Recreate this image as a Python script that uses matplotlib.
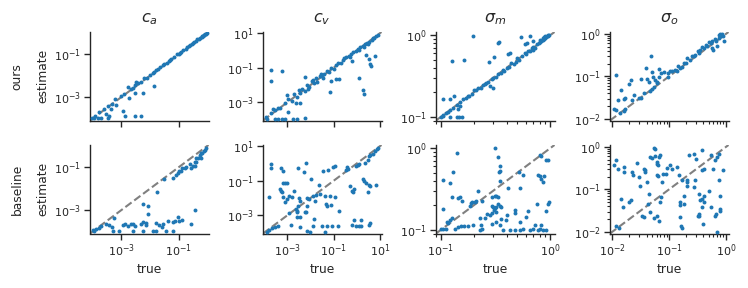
import numpy as np
import matplotlib
matplotlib.use("Agg")
import matplotlib.pyplot as plt
from matplotlib.ticker import NullFormatter, NullLocator, LogLocator, FixedLocator

# ---------------- data (c_a, c_v, sigma_o given as log10 values; sigma_m linear) ----------------
ca_ours_true_log = [-3.9, -3.75, -3.6, -3.45, -3.3, -3.2, -3.0, -2.9, -2.77, -2.65,
                    -2.48, -2.6, -2.5, -2.4, -2.3, -2.21, -2.1, -2.0, -1.9, -1.8,
                    -1.7, -1.65, -1.55, -1.5, -1.4, -1.35, -1.3, -1.25, -1.15, -1.05,
                    -1.0, -0.95, -0.9, -0.85, -0.75, -0.7, -0.65, -0.6, -0.55, -0.5,
                    -0.45, -0.4, -0.35, -0.3, -0.25, -0.2, -0.18, -0.15, -0.12, -0.1,
                    -0.08, -0.05, -0.02, -1.85,
                    -1.84, -2.24, -2.53, -2.71, -2.94, -2.88, -2.53, -2.3, -3.41, -3.17,
                    -3.35, -3.52, -3.93, -3.81, -4.0, -3.7, -3.45]
ca_ours_est_log = [-3.85, -3.7, -3.55, -3.4, -3.3, -3.1, -2.95, -2.85, -2.54, -2.62,
                   -2.31, -2.55, -2.45, -2.35, -2.3, -2.1, -2.08, -1.95, -1.85, -1.74,
                   -1.69, -1.6, -1.5, -1.47, -1.38, -1.3, -1.27, -1.2, -1.12, -1.0,
                   -0.98, -0.92, -0.88, -0.8, -0.73, -0.66, -0.6, -0.58, -0.5, -0.47,
                   -0.42, -0.38, -0.3, -0.28, -0.22, -0.18, -0.15, -0.13, -0.08, -0.1,
                   -0.06, -0.03, 0.0, -1.8,
                   -2.49, -2.82, -2.82, -3.03, -3.62, -3.88, -3.89, -3.89, -3.88, -3.38,
                   -3.54, -3.77, -3.97, -3.97, -3.97, -3.97, -3.97]

ca_base_true_log = [-1.49, -1.2, -1.1, -1.02, -0.97, -0.87, -0.79, -0.73, -0.56, -0.5,
                    -0.44, -0.38, -0.33, -0.27, -0.21, -0.17, -0.13, -0.09, -0.03, -0.38,
                    -0.21, -0.44, -0.6, -0.9,
                    -1.74, -2.22, -2.07, -2.05, -0.44, -0.56, -1.02, -0.97, -0.87, -1.37,
                    -1.2, -1.14, -1.78, -1.69, -1.55, -1.57, -2.24, -2.13, -2.3, -2.15,
                    -2.65, -2.59, -2.53, -2.88, -2.94, -2.77, -3.26, -3.52, -3.41, -3.31,
                    -3.7, -3.76, -3.87, -3.99, -3.93, -3.29, -3.06, -2.59, -2.24, -1.9,
                    -1.78, -1.43, -1.2]
ca_base_est_log = [-1.55, -1.48, -1.35, -1.28, -1.17, -1.05, -1.02, -0.97, -1.05, -0.92,
                   -0.77, -0.74, -0.55, -0.43, -0.35, -0.31, -0.25, -0.2, -0.12, -0.58,
                   -0.55, -0.95, -0.85, -1.15,
                   -2.15, -2.69, -2.78, -3.17, -2.98, -3.63, -3.31, -3.48, -3.43, -3.48,
                   -3.55, -3.48, -3.58, -3.69, -3.63, -3.78, -3.54, -3.58, -3.66, -3.69,
                   -3.63, -3.66, -3.74, -3.66, -3.69, -3.74, -3.38, -3.66, -3.69, -3.77,
                   -3.74, -3.82, -3.89, -3.94, -3.97, -3.98, -3.98, -3.98, -3.98, -3.98,
                   -3.98, -3.98, -3.98]

cv_ours_true_log = [-3.9, -3.7, -3.55, -3.4, -3.3, -3.1, -2.95, -2.8, -2.7, -2.6,
                    -2.5, -2.45, -2.35, -2.25, -2.24, -2.15, -2.05, -1.95, -1.85, -1.75,
                    -1.7, -1.6, -1.5, -1.4, -1.3, -1.2, -1.1, -1.0, -0.9, -0.8,
                    -0.7, -0.6, -0.45, -0.35, -0.25, -0.15, -0.05, 0.05, 0.15, 0.25,
                    0.35, 0.45, 0.55, 0.65, 0.75, 0.85, 0.9,
                    -1.55, -1.45, -0.55, -0.3, 0.1, 0.3, 0.5, 0.7, -1.9, -2.1,
                    -3.71, -3.71, -3.24, -3.6, -3.0, -2.96, -3.89, -3.53, -3.39, -3.24,
                    -3.1, -2.74, -2.57, -2.24, -2.63, -2.43, -1.17, -1.1, -0.91, -0.77,
                    0.11, 0.26, 0.33, -0.2, 0.4, 0.51, 0.57, 0.61, 0.79]
cv_ours_est_log = [-3.85, -3.6, -3.45, -3.3, -3.35, -3.05, -2.8, -2.9, -2.5, -2.7,
                   -2.3, -2.45, -2.2, -2.35, -1.55, -2.0, -2.1, -1.75, -1.9, -1.6,
                   -1.8, -1.5, -1.45, -1.35, -1.2, -1.25, -1.0, -1.05, -0.85, -0.7,
                   -0.75, -0.55, -0.4, -0.3, -0.2, -0.1, -0.05, 0.1, 0.2, 0.25,
                   0.35, 0.45, 0.5, 0.6, 0.7, 0.85, 0.9,
                   -1.35, -1.6, -0.45, -0.35, 0.05, 0.2, 0.4, 0.75, -1.7, -2.2,
                   -1.14, -1.78, -1.18, -3.39, -2.57, -3.58, -3.97, -3.98, -3.98, -3.98,
                   -3.98, -3.98, -3.98, -3.9, -3.06, -3.06, -2.38, -1.74, -1.65, -1.65,
                   -1.61, -2.28, -2.52, -0.6, -0.26, -0.51, -0.78, -0.89, -0.29]

cv_base_true_log = [-3.71, -3.71, -3.27, -3.2, -2.21, -2.53, -2.27, -1.99, -1.46, -1.24,
                    -1.03, -0.96, -0.41, -0.39, -0.46, -0.03, 0.04, 0.11, 0.37, 0.47,
                    0.51, 0.57, 0.69, 0.8, 0.86, 0.93, -3.81, -3.31, -3.24, -3.27,
                    -3.2, -3.1, -3.0, -3.17, -3.1, -3.03, -2.91, -2.81, -2.71, -2.49,
                    -2.43, -2.53, -2.63, -2.6, -2.57, -2.17, -2.06, -2.14, -2.24, -2.2,
                    -2.91, -2.57, -2.46, -2.43, -2.13, -2.84, -1.91, -1.81, -1.74, -1.6,
                    -1.63, -1.39, -1.34, -1.14, -0.96, -1.1, -0.77, -1.29, -1.84, -1.89,
                    -1.49, -1.29, -1.06, -0.81, -1.39, -0.31, -0.2, -0.17, -0.1, 0.26,
                    0.33, 0.4, 0.51, 0.59, 0.83, 0.47, -0.13, 0.19, -0.2, -0.03,
                    0.11, 0.19, 0.51, 0.57, -3.89, -3.81, -3.67, -3.53, -3.39, -2.03]
cv_base_est_log = [-0.02, -0.28, -0.28, -0.41, 0.01, -0.26, -0.47, -0.89, -0.41, -0.37,
                   -0.18, -0.14, -0.18, -0.31, -0.37, -0.12, -0.06, -0.02, 0.01, 0.23,
                   0.46, 0.5, 0.56, 0.75, 0.85, 0.92, -1.96, -1.47, -1.67, -1.57,
                   -1.13, -1.13, -1.13, -1.96, -2.21, -2.05, -1.86, -1.96, -1.57, -2.0,
                   -2.15, -2.44, -2.63, -2.83, -2.73, -2.0, -2.05, -2.48, -2.79, -2.83,
                   -2.86, -3.08, -3.12, -3.66, -3.89, -3.56, -1.86, -2.17, -1.82, -1.76,
                   -1.24, -1.86, -2.34, -1.86, -1.96, -2.4, -2.73, -2.44, -3.23, -3.6,
                   -3.6, -3.6, -3.6, -3.6, -3.99, -1.32, -1.57, -1.67, -1.47, -0.89,
                   -1.03, -1.13, -1.24, -1.28, -1.22, -1.67, -3.27, -3.27, -3.56, -3.6,
                   -3.6, -3.6, -3.56, -3.46, -3.99, -3.85, -3.75, -3.7, -3.64, -3.99]

sm_ours_true = [0.1, 0.105, 0.11, 0.115, 0.12, 0.13, 0.14, 0.15, 0.16, 0.17,
                0.175, 0.18, 0.19, 0.2, 0.21, 0.22, 0.23, 0.24, 0.25, 0.26,
                0.27, 0.28, 0.3, 0.29, 0.3, 0.32, 0.33, 0.35, 0.37, 0.38,
                0.4, 0.42, 0.44, 0.46, 0.48, 0.5, 0.52, 0.55, 0.58, 0.6,
                0.62, 0.65, 0.68, 0.7, 0.72, 0.75, 0.78, 0.8, 0.82, 0.84,
                0.86, 0.88, 0.9, 0.92, 0.94, 0.96, 0.98, 0.85, 0.9, 0.95,
                0.8, 0.88,
                0.197, 0.125, 0.162, 0.105, 0.121, 0.132, 0.122, 0.139, 0.147, 0.156,
                0.144, 0.149, 0.104, 0.276, 0.306, 0.329, 0.34, 0.41, 0.43, 0.544,
                0.58, 0.61, 0.65, 0.70, 0.69]
sm_ours_est = [0.1, 0.103, 0.112, 0.113, 0.122, 0.128, 0.138, 0.152, 0.165, 0.172,
               0.18, 0.18, 0.19, 0.21, 0.21, 0.225, 0.228, 0.245, 0.25, 0.26,
               0.265, 0.236, 0.225, 0.29, 0.3, 0.31, 0.33, 0.34, 0.37, 0.36,
               0.4, 0.41, 0.45, 0.44, 0.47, 0.52, 0.5, 0.55, 0.6, 0.58,
               0.63, 0.64, 0.7, 0.72, 0.7, 0.78, 0.8, 0.82, 0.85, 0.86,
               0.88, 0.9, 0.93, 0.95, 0.97, 0.98, 1.0, 0.92, 0.98, 1.0,
               0.86, 0.95,
               0.98, 0.483, 0.497, 0.167, 0.163, 0.18, 0.1, 0.1, 0.1, 0.1,
               0.123, 0.134, 0.104, 0.466, 0.545, 0.79, 0.83, 0.58, 0.61, 0.954,
               0.77, 0.79, 0.98, 0.85, 0.66]

sm_base_true = [0.139, 0.31, 0.329, 0.345, 0.345, 0.34, 0.345, 0.104, 0.128, 0.122,
                0.125, 0.144, 0.149, 0.157, 0.219, 0.184, 0.188, 0.194, 0.204, 0.211,
                0.235, 0.29, 0.31, 0.32, 0.333, 0.411, 0.532, 0.518, 0.563, 0.772,
                0.8, 0.828, 0.857, 0.875, 0.906, 0.952, 0.8, 0.828, 0.105, 0.125,
                0.121, 0.113, 0.115, 0.105, 0.111, 0.101, 0.134, 0.144, 0.152, 0.163,
                0.178, 0.197, 0.227, 0.23, 0.235, 0.227, 0.252, 0.264, 0.28, 0.29,
                0.29, 0.3, 0.31, 0.32, 0.305, 0.317, 0.333, 0.345, 0.357, 0.29,
                0.32, 0.345, 0.357, 0.397, 0.392, 0.426, 0.365, 0.473, 0.473, 0.525,
                0.625, 0.596, 0.473, 0.525, 0.563, 0.649, 0.695, 0.72, 0.772, 0.8,
                0.828, 0.857, 0.92, 0.92, 0.952, 0.973, 0.762]
sm_base_est = [0.869, 0.99, 0.77, 0.61, 0.53, 0.505, 0.39, 0.407, 0.51, 0.37,
               0.255, 0.243, 0.255, 0.224, 0.296, 0.198, 0.211, 0.217, 0.217, 0.228,
               0.228, 0.25, 0.262, 0.262, 0.25, 0.325, 0.325, 0.505, 0.469, 0.469,
               0.45, 0.419, 0.389, 0.46, 0.72, 0.72, 0.82, 0.79, 0.18, 0.139,
               0.13, 0.124, 0.122, 0.103, 0.101, 0.101, 0.103, 0.108, 0.111, 0.111,
               0.111, 0.115, 0.139, 0.115, 0.103, 0.1, 0.139, 0.155, 0.15, 0.16,
               0.194, 0.189, 0.184, 0.189, 0.177, 0.164, 0.207, 0.194, 0.192, 0.118,
               0.124, 0.115, 0.136, 0.152, 0.13, 0.1, 0.1, 0.177, 0.161, 0.126,
               0.172, 0.143, 0.1, 0.1, 0.103, 0.1, 0.103, 0.113, 0.1, 0.101,
               0.113, 0.1, 0.1, 0.172, 0.207, 0.217, 0.207]

so_ours_true_log = [-1.94, -1.97, -1.93, -1.84, -1.9, -1.8, -1.77, -1.87, -1.77, -1.8,
                    -1.7, -1.68, -1.62, -1.65, -1.53, -1.5, -1.5, -1.44, -1.4, -1.39,
                    -1.32, -1.31, -1.28, -1.36, -1.26, -1.3, -1.33, -1.18, -1.15, -1.21,
                    -1.18, -1.24, -1.22, -1.09, -1.02, -0.98, -1.02, -0.89, -0.86, -0.8,
                    -0.77, -0.71, -0.68, -0.63, -0.57, -0.54, -0.48, -0.45, -0.39, -0.33,
                    -0.3, -0.25, -0.19, -0.13, -0.1, -0.07, -0.05, -0.04, -0.25, -0.22,
                    -0.16, -0.6, -0.5, -0.42, -0.35, -0.27, -0.18, -0.12, -0.08, -0.95,
                    -0.84, -0.74]
so_ours_est_log = [-0.98, -1.78, -1.79, -1.33, -1.55, -1.54, -1.52, -1.86, -1.76, -1.82,
                   -1.17, -1.09, -1.43, -1.56, -1.5, -1.5, -1.07, -1.39, -0.81, -1.07,
                   -0.51, -0.89, -1.02, -1.13, -1.26, -1.31, -1.34, -0.83, -0.93, -1.13,
                   -1.01, -1.09, -1.15, -0.89, -0.93, -0.87, -1.02, -0.85, -0.87, -0.81,
                   -0.77, -0.69, -0.57, -0.61, -0.53, -0.49, -0.45, -0.37, -0.33, -0.29,
                   -0.2, -0.16, -0.11, -0.02, 0.0, 0.0, -0.04, -0.17, -0.33, -0.37,
                   -0.29, -0.52, -0.4, -0.32, -0.25, -0.22, -0.16, -0.1, -0.05, -0.88,
                   -0.76, -0.68]

so_base_true_log = [-1.97, -1.93, -1.9, -1.8, -1.8, -1.65, -1.63, -1.53, -1.51, -1.94,
                    -1.88, -1.85, -1.81, -1.71, -1.68, -1.56, -1.44, -1.43, -1.42, -1.33,
                    -1.3, -1.26, -1.24, -1.24, -1.21, -1.22, -1.19, -1.18, -1.16, -1.21,
                    -1.2, -1.39, -1.36, -1.37, -1.33, -1.26, -1.22, -1.17, -1.16, -1.15,
                    -1.12, -1.44, -1.47, -1.11, -1.06, -1.04, -0.98, -0.95, -0.86, -0.82,
                    -0.78, -0.68, -0.68, -0.68, -0.8, -0.79, -0.77, -0.74, -0.73, -0.8,
                    -0.8, -0.65, -0.57, -0.52, -0.42, -0.42, -0.39, -0.27, -0.19, -0.16,
                    -0.13, -0.22, -0.06, -0.54, -0.57, -0.48, -0.48, -0.5, -0.47, -0.45,
                    -0.43, -0.42, -0.39, -0.4, -0.38, -0.29, -0.27, -0.19, -0.17, -0.1,
                    -0.11, -0.13, -0.1, -0.16]
so_base_est_log = [-0.42, -0.32, -0.51, -0.47, -0.58, -0.59, -0.66, -0.71, -0.91, -1.86,
                   -1.92, -1.23, -1.42, -1.3, -1.26, -0.38, -0.51, -0.55, -0.59, -0.24,
                   -0.26, -0.02, -0.04, -0.21, -0.36, -0.4, -0.43, -0.24, -0.2, -0.67,
                   -0.69, -0.83, -1.11, -1.34, -1.54, -1.68, -1.62, -1.74, -1.3, -1.19,
                   -0.83, -1.66, -1.62, -0.63, -0.65, -0.49, -0.42, -0.51, -0.47, -0.66,
                   -0.79, -0.77, -0.83, -0.91, -1.66, -1.86, -1.9, -1.15, -1.34, -1.3,
                   -1.38, -0.2, -0.17, -0.29, -0.08, -0.55, -0.51, -0.2, -0.32, -0.24,
                   -0.16, -0.51, -0.55, -0.79, -0.95, -1.11, -1.58, -1.62, -1.64, -1.26,
                   -1.23, -1.42, -1.15, -1.82, -1.3, -1.03, -1.42, -1.62, -1.58, -1.5,
                   -1.46, -0.79, -1.15, -2.0]

titles = [r"$c_a$", r"$c_v$", r"$\sigma_m$", r"$\sigma_o$"]
row_labels = ["ours", "baseline"]
axis_limits = [(10 ** -4.08, 10 ** 0.04), (10 ** -4.05, 10 ** 1.07), (0.09, 1.09), (0.0091, 1.11)]
major_ticks = [[1e-3, 1e-1], [1e-3, 1e-1, 1e1], [0.1, 1.0], [0.01, 0.1, 1.0]]
minor_on = [False, False, True, True]


def pw(a):
    return np.power(10.0, np.asarray(a, dtype=float))


panels = [
    [(pw(ca_ours_true_log), pw(ca_ours_est_log)), (pw(cv_ours_true_log), pw(cv_ours_est_log)),
     (np.array(sm_ours_true), np.array(sm_ours_est)), (pw(so_ours_true_log), pw(so_ours_est_log))],
    [(pw(ca_base_true_log), pw(ca_base_est_log)), (pw(cv_base_true_log), pw(cv_base_est_log)),
     (np.array(sm_base_true), np.array(sm_base_est)), (pw(so_base_true_log), pw(so_base_est_log))],
]

# ---------------- figure ----------------
plt.rcParams["font.family"] = ["DejaVu Sans"]
plt.rcParams["mathtext.fontset"] = "dejavusans"
fig = plt.figure(figsize=(7.48, 2.88), dpi=100)
W, H = 748.0, 288.0
lefts = [90, 263, 436, 610]
width = 118.5
tops = [32, 145]
height = 88.5
ink = "#262626"

for r in range(2):
    for c in range(4):
        ax = fig.add_axes([lefts[c] / W, 1 - (tops[r] + height) / H, width / W, height / H])
        x, y = panels[r][c]
        lo, hi = axis_limits[c]
        ax.scatter(x, y, s=8, color="#1f77b4", linewidths=0, zorder=3)
        ax.plot([lo, hi], [lo, hi], ls="--", color="gray", lw=1.5, zorder=2)
        ax.set_xscale("log")
        ax.set_yscale("log")
        ax.set_xlim(lo, hi)
        ax.set_ylim(lo, hi)
        for axis in (ax.xaxis, ax.yaxis):
            axis.set_major_locator(FixedLocator(major_ticks[c]))
            if minor_on[c]:
                axis.set_minor_locator(LogLocator(base=10, subs=np.arange(2, 10)))
            else:
                axis.set_minor_locator(NullLocator())
            axis.set_minor_formatter(NullFormatter())
        ax.spines["top"].set_visible(False)
        ax.spines["right"].set_visible(False)
        for sp in ("left", "bottom"):
            ax.spines[sp].set_color(ink)
            ax.spines[sp].set_linewidth(1.0)
        ax.tick_params(which="major", length=4, width=1.0, labelsize=8, color=ink, labelcolor=ink, pad=2.5)
        ax.tick_params(which="minor", length=2.5, width=0.8, color=ink)
        if r == 0:
            ax.set_title(titles[c], fontsize=11.5, color=ink, pad=7)
            ax.tick_params(axis="x", which="both", labelbottom=False)
        else:
            ax.set_xlabel("true", fontsize=8.8, color=ink, labelpad=3)
        if c == 0:
            ax.set_ylabel("estimate", fontsize=8.8, color=ink, labelpad=3)

for r in range(2):
    yc = 1 - (tops[r] + height / 2) / H
    fig.text(17 / W, yc, row_labels[r], rotation=90, ha="center", va="center", fontsize=8.8, color=ink)

fig.savefig("out.png", dpi=100)
